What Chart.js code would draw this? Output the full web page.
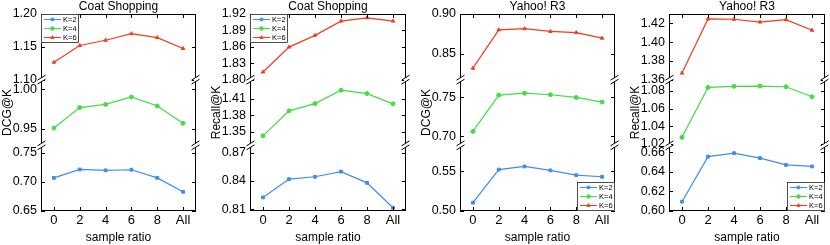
<!DOCTYPE html>
<html>
<head>
<meta charset="utf-8">
<script src="https://cdn.jsdelivr.net/npm/chart.js@4.4.0/dist/chart.umd.min.js"></script>
<style>
  html, body { margin: 0; padding: 0; background: #fff; }
  #wrap { position: relative; width: 830px; height: 245px; overflow: hidden; }
  #wrap canvas { position: absolute; top: 0; }
</style>
</head>
<body>
<div id="wrap">
  <canvas id="c0"></canvas>
  <canvas id="c1"></canvas>
  <canvas id="c2"></canvas>
  <canvas id="c3"></canvas>
</div>
<script>
// data
const sampleRatios = ['0', '2', '4', '6', '8', 'All'];
const kLabels = ['K=2', 'K=4', 'K=6'];

const coatDcgK2 = [0.707, 0.7215, 0.720, 0.721, 0.707, 0.683];
const coatDcgK4 = [0.951, 0.977, 0.981, 0.9905, 0.979, 0.957];
const coatDcgK6 = [1.1265, 1.152, 1.160, 1.170, 1.164, 1.1475];

const coatRecallK2 = [0.8225, 0.842, 0.8445, 0.850, 0.838, 0.8115];
const coatRecallK4 = [1.343, 1.388, 1.401, 1.425, 1.419, 1.4005];
const coatRecallK6 = [1.814, 1.8595, 1.881, 1.907, 1.913, 1.907];

const yahooDcgK2 = [0.5105, 0.552, 0.556, 0.551, 0.545, 0.543];
const yahooDcgK4 = [0.706, 0.753, 0.7555, 0.7535, 0.750, 0.744];
const yahooDcgK6 = [0.8315, 0.880, 0.8815, 0.878, 0.8765, 0.8695];

const yahooRecallK2 = [0.6095, 0.6555, 0.659, 0.654, 0.647, 0.6455];
const yahooRecallK4 = [1.0275, 1.0838, 1.085, 1.0853, 1.0845, 1.0732];
const yahooRecallK6 = [1.367, 1.4247, 1.4244, 1.4214, 1.4239, 1.4127];

// tick labels per axis segment (bottom, middle, top)
const coatDcgTicks = [[0.65, 0.70, 0.75], [0.95, 1.00], [1.10, 1.15, 1.20]];
const coatRecallTicks = [[0.81, 0.84, 0.87], [1.35, 1.38, 1.41], [1.80, 1.83, 1.86, 1.89, 1.92]];
const yahooDcgTicks = [[0.50, 0.55], [0.70, 0.75], [0.85, 0.90]];
const yahooRecallTicks = [[0.60, 0.62, 0.64, 0.66], [1.02, 1.04, 1.06, 1.08], [1.36, 1.38, 1.40, 1.42]];

const colors = ['#3d8ef2', '#44dc44', '#f23c1e'];
const markers = ['rect', 'circle', 'triangle'];

Chart.defaults.font.family = "'Liberation Sans', Arial, sans-serif";
Chart.defaults.color = '#000';

// frame, inward ticks and axis break marks
const framePlugin = {
  id: 'frame',
  afterDatasetsDraw(chart) {
    const ctx = chart.ctx;
    const a = chart.chartArea;
    ctx.save();
    ctx.strokeStyle = '#000';
    ctx.lineWidth = 1;
    ctx.strokeRect(a.left + 0.5, a.top + 0.5, a.right - a.left - 1, a.bottom - a.top - 1);

    const ys = ['yBot', 'yMid', 'yTop'].map(id => chart.scales[id]);
    ctx.beginPath();
    ys.forEach(s => {
      s.ticks.forEach(t => {
        const y = Math.round(s.getPixelForValue(t.value)) + 0.5;
        ctx.moveTo(a.left, y); ctx.lineTo(a.left + 4, y);
        ctx.moveTo(a.right, y); ctx.lineTo(a.right - 4, y);
      });
    });
    const xs = chart.scales.x;
    xs.ticks.forEach((t, i) => {
      const x = Math.round(xs.getPixelForTick(i)) + 0.5;
      ctx.moveTo(x, a.bottom); ctx.lineTo(x, a.bottom - 4);
      ctx.moveTo(x, a.top); ctx.lineTo(x, a.top + 4);
    });
    ctx.stroke();

    // break marks
    [ys[0].top, ys[1].top].forEach(yb => {
      [a.left + 0.5, a.right - 0.5].forEach(x => {
        ctx.fillStyle = '#fff';
        ctx.fillRect(x - 1.5, yb - 2, 3, 4);
        ctx.beginPath();
        ctx.moveTo(x - 4, yb + 0.5); ctx.lineTo(x + 4, yb - 4.5);
        ctx.moveTo(x - 4, yb + 4.5); ctx.lineTo(x + 4, yb - 0.5);
        ctx.stroke();
      });
    });
    ctx.restore();
  },
  afterDraw(chart) {
    const opts = chart.options.plugins.boxLegend;
    if (!opts) return;
    const ctx = chart.ctx;
    const a = chart.chartArea;
    const w = 38, h = 29;
    const x0 = opts.pos === 'tl' ? a.left : a.right - w;
    const y0 = opts.pos === 'tl' ? a.top : a.bottom - h;
    ctx.save();
    ctx.fillStyle = '#fff';
    ctx.fillRect(x0, y0, w, h);
    ctx.strokeStyle = '#000';
    ctx.lineWidth = 0.7;
    ctx.strokeRect(x0 + 0.5, y0 + 0.5, w - 1, h - 1);
    chart.data.datasets.forEach((ds, i) => {
      const y = y0 + 5.5 + i * 9;
      ctx.strokeStyle = ds.borderColor;
      ctx.fillStyle = ds.borderColor;
      ctx.lineWidth = 1;
      ctx.beginPath();
      ctx.moveTo(x0 + 3, y); ctx.lineTo(x0 + 20, y);
      ctx.stroke();
      Chart.helpers.drawPoint(ctx, {pointStyle: ds.pointStyle, radius: 1.8, borderWidth: 1, rotation: 0}, x0 + 11.5, y);
      ctx.fillStyle = '#000';
      ctx.font = "7.5px 'Liberation Sans', Arial, sans-serif";
      ctx.textBaseline = 'middle';
      ctx.fillText(ds.label, x0 + 22, y + 0.5);
    });
    ctx.restore();
  }
};

const panels = [
  {id: 'c0', left: 0, plotW: 156, title: 'Coat Shopping', yTitle: 'DCG@K', legend: 'tl',
    series: [coatDcgK2, coatDcgK4, coatDcgK6], ticks: coatDcgTicks,
    ranges: [[0.65, 0.763], [0.929, 1.0125], [1.10, 1.20]]},
  {id: 'c1', left: 209, plotW: 157, title: 'Coat Shopping', yTitle: 'Recall@K', legend: 'tl',
    series: [coatRecallK2, coatRecallK4, coatRecallK6], ticks: coatRecallTicks,
    ranges: [[0.808, 0.878], [1.326, 1.444], [1.80, 1.92]]},
  {id: 'c2', left: 419, plotW: 156, title: 'Yahoo! R3', yTitle: 'DCG@K', legend: 'br',
    series: [yahooDcgK2, yahooDcgK4, yahooDcgK6], ticks: yahooDcgTicks,
    ranges: [[0.50, 0.5825], [0.688, 0.773], [0.817, 0.90]]},
  {id: 'c3', left: 628, plotW: 157, title: 'Yahoo! R3', yTitle: 'Recall@K', legend: 'br',
    series: [yahooRecallK2, yahooRecallK4, yahooRecallK6], ticks: yahooRecallTicks,
    ranges: [[0.60, 0.667], [1.0185, 1.0925], [1.36, 1.43]]}
];

const axisIds = ['yBot', 'yMid', 'yTop'];

function yAxis(p, i) {
  return {
    type: 'linear',
    position: 'left',
    stack: 'seg',
    stackWeight: 1,
    weight: i + 1,
    min: p.ranges[i][0],
    max: p.ranges[i][1],
    grid: {display: false, drawTicks: false},
    border: {display: false},
    afterBuildTicks: scale => { scale.ticks = p.ticks[i].map(v => ({value: v})); },
    afterFit: scale => { scale.width = 41; },
    ticks: {
      autoSkip: false,
      padding: 4,
      font: {size: 12.5},
      callback: v => v.toFixed(2)
    },
    title: {
      display: i === 1,
      text: p.yTitle,
      font: {size: 12},
      padding: {top: 0, bottom: 0}
    }
  };
}

panels.forEach(p => {
  const canvas = document.getElementById(p.id);
  canvas.width = 41 + p.plotW + 4;
  canvas.height = 245;
  canvas.style.left = p.left + 'px';

  const scales = {
    x: {
      type: 'category',
      labels: sampleRatios,
      offset: true,
      grid: {display: false, drawTicks: false},
      border: {display: false},
      afterFit: scale => { scale.height = 34; },
      ticks: {padding: 2, font: {size: 13}, maxRotation: 0},
      title: {display: true, text: 'sample ratio', font: {size: 12}, padding: {top: 0, bottom: 0}}
    }
  };
  axisIds.forEach((id, i) => { scales[id] = yAxis(p, i); });

  new Chart(canvas, {
    type: 'line',
    data: {
      labels: sampleRatios,
      datasets: p.series.map((vals, i) => ({
        label: kLabels[i],
        data: vals,
        yAxisID: axisIds[i],
        borderColor: colors[i],
        backgroundColor: colors[i],
        borderWidth: 1.2,
        pointStyle: markers[i],
        pointRadius: 2,
        pointBorderWidth: 1,
        tension: 0
      }))
    },
    options: {
      responsive: false,
      animation: false,
      layout: {padding: {left: 0, right: 4, top: 0, bottom: 0}},
      scales: scales,
      plugins: {
        legend: {display: false},
        tooltip: {enabled: false},
        title: {
          display: true,
          text: p.title,
          fullSize: false,
          font: {size: 12, weight: 'normal', lineHeight: 14 / 12},
          padding: {top: 0, bottom: 0}
        },
        boxLegend: {pos: p.legend}
      }
    },
    plugins: [framePlugin]
  });
});
</script>
</body>
</html>
